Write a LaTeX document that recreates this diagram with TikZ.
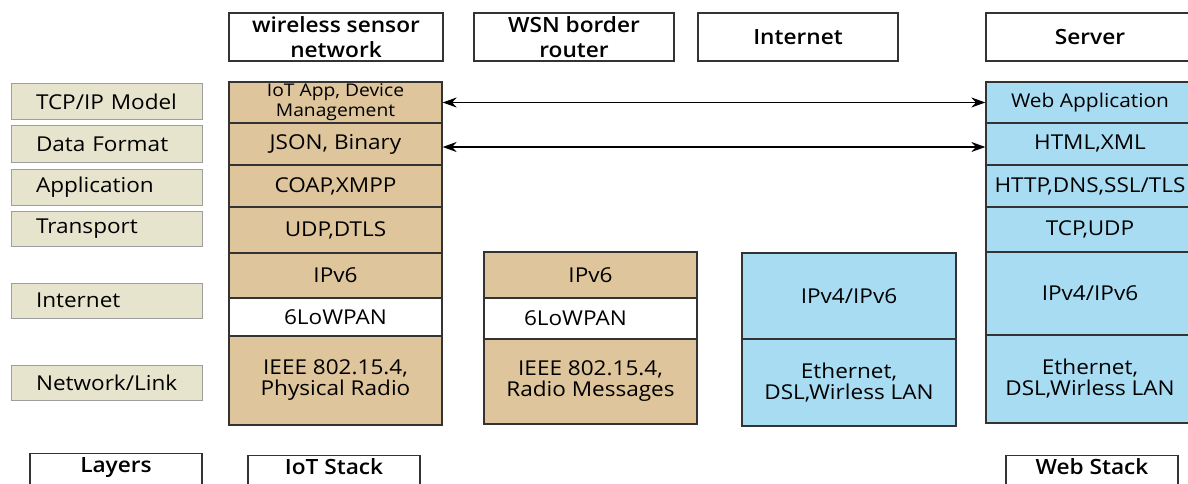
\documentclass[tikz,border=0pt]{standalone}
\usepackage{fontspec}
\IfFontExistsTF{Open Sans Medium}
  {\setmainfont{Open Sans Medium}[FakeStretch=1.1]}
  {\setmainfont{Open Sans}[FakeStretch=1.1]}
\IfFontExistsTF{Open Sans SemiBold}
  {\newfontfamily\headfont{Open Sans SemiBold}[FakeStretch=1.08]}
  {\IfFontExistsTF{Open Sans Semibold}
    {\newfontfamily\headfont{Open Sans Semibold}[FakeStretch=1.08]}
    {\newfontfamily\headfont{Open Sans}[FakeStretch=1.08, FakeBold=1.5]}}
\usetikzlibrary{arrows.meta}
\definecolor{iotfill}{HTML}{DEC59B}
\definecolor{webfill}{HTML}{A8DCF2}
\definecolor{layerfill}{HTML}{E6E4CD}
\definecolor{edge}{HTML}{333333}
\begin{document}
\begin{tikzpicture}[x=1pt,y=-1pt,
  txt/.style={font=\fontsize{20.5}{21}\selectfont},
  cell/.style={txt, draw=edge, line width=1.3pt, inner sep=0pt, align=center},
  iot/.style={cell, fill=iotfill, minimum width=213pt},
  rtr/.style={cell, fill=iotfill, minimum width=213pt},
  web/.style={cell, fill=webfill, minimum width=208pt},
  net/.style={cell, fill=webfill, minimum width=214pt},
  head/.style={cell, font=\fontsize{21}{25}\headfont, fill=white, minimum height=48pt},
  layer/.style={txt, draw=gray!75, fill=layerfill, line width=1pt,
    text width=141pt, inner xsep=25pt, inner ysep=0pt, align=left},
  foot/.style={font=\fontsize{21}{22}\headfont, draw=edge, line width=1.3pt,
    anchor=north, minimum width=172pt, inner xsep=0pt, inner ysep=4pt,
    text height=15pt, text depth=30pt},
  link/.style={{Stealth[length=14pt,width=10pt]}-{Stealth[length=14pt,width=10pt]}, line width=1.3pt, black}
]
\useasboundingbox (0,0) rectangle (1188,484);
\clip (0,0) rectangle (1188,484);

% column headings
\node[head, minimum width=214pt] (hwsn) at (336,37) {wireless sensor\\network};
\node[head, minimum width=200pt] (hbr)  at (574,37) {WSN border\\router};
\node[head, minimum width=200pt] (hnet) at (798,37) {Internet};
\node[head, minimum width=208pt] (hsrv) at (1090,37) {Server};

% layer names
\node[layer, minimum height=36pt] (l1) at (106.5,102)   {TCP/IP Model};
\node[layer, minimum height=36pt] (l2) at (106.5,144)   {Data Format};
\node[layer, minimum height=36pt] (l3) at (106.5,187)   {Application};
\node[layer, minimum height=35pt] (l4) at (106.5,228.5) {Transport};
\node[layer, minimum height=35pt] (l5) at (106.5,300.5) {Internet};
\node[layer, minimum height=35pt] (l6) at (106.5,382.5) {Network/Link};

% IoT stack
\node[iot, minimum height=41pt, font=\fontsize{17.5}{20}\selectfont] (i1) at (335.5,102.5) {IoT App, Device\\Management};
\node[iot, minimum height=42pt] (i2) at (335.5,144)   {JSON, Binary};
\node[iot, minimum height=42pt] (i3) at (335.5,186)   {COAP,XMPP};
\node[iot, minimum height=46pt] (i4) at (335.5,230)   {UDP,DTLS};
\node[iot, minimum height=45pt] (i5) at (335.5,275.5) {IPv6};
\node[iot, fill=white, minimum height=38pt] (i6) at (335.5,317) {6LoWPAN};
\node[iot, minimum height=89pt] (i7) at (335.5,380.5) {IEEE 802.15.4,\\Physical Radio};

% border router
\node[rtr, minimum height=46pt] (r1) at (590.5,275)   {IPv6};
\node[rtr, fill=white, minimum height=41pt, text width=133pt, inner xsep=40pt, align=left] (r2) at (590.5,318.5) {6LoWPAN};
\node[rtr, minimum height=85pt] (r3) at (590.5,381.5) {IEEE 802.15.4,\\Radio Messages};

% internet
\node[net, minimum height=86pt] (n1) at (849,296)   {IPv4/IPv6};
\node[net, minimum height=87pt] (n2) at (849,382.5) {Ethernet,\\DSL,Wirless LAN};

% web stack
\node[web, minimum height=41pt, font=\fontsize{19}{21}\selectfont] (w1) at (1090,102.5) {Web Application};
\node[web, minimum height=42pt] (w2) at (1090,144)   {HTML,XML};
\node[web, minimum height=42pt] (w3) at (1090,186)   {HTTP,DNS,SSL/TLS};
\node[web, minimum height=45pt] (w4) at (1090,229.5) {TCP,UDP};
\node[web, minimum height=83pt] (w5) at (1090,293.5) {IPv4/IPv6};
\node[web, minimum height=88pt] (w6) at (1090,379)   {Ethernet,\\DSL,Wirless LAN};

% peer links between the two stacks
\draw[link] (i1.east) -- (w1.west);
\draw[link] ([yshift=-3pt]i2.east) -- ([yshift=-3pt]w2.west);

% stack captions
\node[foot] (f1) at (116,453)  {Layers};
\node[foot] (f2) at (334,455)  {IoT Stack};
\node[foot] (f3) at (1092,455) {Web Stack};
\end{tikzpicture}
\end{document}
